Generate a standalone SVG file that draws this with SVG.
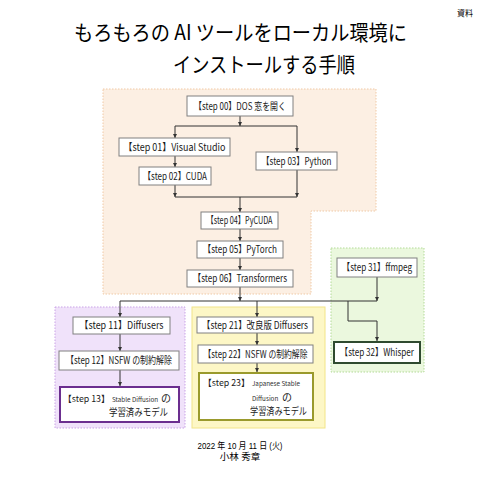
<svg xmlns="http://www.w3.org/2000/svg" width="480" height="480" viewBox="0 0 480 480">
<defs>
<marker id="ah" markerUnits="userSpaceOnUse" markerWidth="5" markerHeight="5" refX="4" refY="2" orient="auto">
<path d="M0,0 L4,2 L0,4 z" fill="#333"/>
</marker>
<style>
.lbl{font-family:"Noto Sans CJK JP","Liberation Sans",sans-serif;font-size:10px;fill:#1a1a1a;text-anchor:middle}
.lbl2{font-family:"Noto Sans CJK JP","Liberation Sans",sans-serif;font-size:10px;fill:#1a1a1a}
.br{font-family:"Noto Sans CJK JP","Liberation Sans",sans-serif;font-size:8.8px;fill:#1a1a1a}
.sm{font-family:"Noto Sans CJK JP","Liberation Sans",sans-serif;font-size:6.3px;fill:#333}
.box{fill:#fff;stroke:#808080;stroke-width:1}
.conn path{fill:none;stroke:#333;stroke-width:1}
.title{font-family:"Noto Sans CJK JP",sans-serif;font-size:21px;fill:#000}
.foot{font-family:"Liberation Sans","Noto Sans CJK JP",sans-serif;font-size:9.5px;fill:#000;text-anchor:middle}
</style>
</defs>
<rect width="480" height="480" fill="#fff"/>

<g id="header">
<text x="457" y="16" style="font-family:'Noto Sans CJK JP',sans-serif;font-size:8px">資料</text>
<text class="title" x="74" y="40" textLength="333" lengthAdjust="spacingAndGlyphs">もろもろの AI ツールをローカル環境に</text>
<text class="title" x="173" y="72" textLength="182" lengthAdjust="spacingAndGlyphs">インストールする手順</text>
</g>

<g id="regions">
<path id="region-base" d="M103,89 H376 V211 H311 V294 H103 Z" fill="#fcefe3" stroke="#f0c9a6" stroke-width="1" stroke-dasharray="1.5,1.5"/>
<rect id="region-sd" x="55" y="307" width="130" height="121" fill="#f0e2fa" stroke="#c9a3e6" stroke-width="1" stroke-dasharray="1.5,1.5"/>
<rect id="region-jsd" x="192" y="307" width="133" height="121" fill="#fdf7c6" stroke="#f2e488" stroke-width="1"/>
<rect id="region-whisper" x="331" y="248" width="93" height="124" fill="#ebf8de" stroke="#b3da98" stroke-width="1" stroke-dasharray="1.5,1.5"/>
</g>

<g id="connectors" class="conn">
<path d="M240,116 V126" marker-end="url(#ah)"/>
<path d="M175,126 H297"/>
<path d="M175,126 V138" marker-end="url(#ah)"/>
<path d="M297,126 V152" marker-end="url(#ah)"/>
<path d="M175,156 V167" marker-end="url(#ah)"/>
<path d="M175,185 V197" marker-end="url(#ah)"/>
<path d="M297,170 V197" marker-end="url(#ah)"/>
<path d="M175,197 H297"/>
<path d="M240,197 V212" marker-end="url(#ah)"/>
<path d="M240,229 V241" marker-end="url(#ah)"/>
<path d="M240,258 V270" marker-end="url(#ah)"/>
<path d="M240,287 V301" marker-end="url(#ah)"/>
<path d="M120,301 H377"/>
<path d="M120,301 V317" marker-end="url(#ah)"/>
<path d="M257,301 V317" marker-end="url(#ah)"/>
<path d="M377,277 V301" marker-end="url(#ah)"/>
<path d="M348,301 V321 H377 V341" marker-end="url(#ah)"/>
<path d="M120,334 V351" marker-end="url(#ah)"/>
<path d="M120,370 V386" marker-end="url(#ah)"/>
<path d="M257,333 V345" marker-end="url(#ah)"/>
<path d="M257,363 V372" marker-end="url(#ah)"/>
</g>

<g id="step00"><rect class="box" x="187" y="96" width="106" height="20"/><text class="lbl" x="240" y="109.5" textLength="92" lengthAdjust="spacingAndGlyphs">【step 00】DOS 窓を開く</text></g>
<g id="step01"><rect class="box" x="119" y="138" width="111" height="18"/><text class="lbl" x="174.5" y="150.5" textLength="102" lengthAdjust="spacingAndGlyphs">【step 01】Visual Studio</text></g>
<g id="step02"><rect class="box" x="139" y="167" width="72" height="18"/><text class="lbl" x="175" y="179.5" textLength="64" lengthAdjust="spacingAndGlyphs">【step 02】CUDA</text></g>
<g id="step03"><rect class="box" x="256" y="152" width="81" height="18"/><text class="lbl" x="296.5" y="164.5" textLength="70" lengthAdjust="spacingAndGlyphs">【step 03】Python</text></g>
<g id="step04"><rect class="box" x="201" y="212" width="77" height="17"/><text class="lbl" x="239.5" y="224" textLength="66" lengthAdjust="spacingAndGlyphs">【step 04】PyCUDA</text></g>
<g id="step05"><rect class="box" x="197" y="241" width="86" height="17"/><text class="lbl" x="240" y="253" textLength="74" lengthAdjust="spacingAndGlyphs">【step 05】PyTorch</text></g>
<g id="step06"><rect class="box" x="187" y="270" width="106" height="17"/><text class="lbl" x="240" y="282" textLength="94" lengthAdjust="spacingAndGlyphs">【step 06】Transformers</text></g>

<g id="step31"><rect class="box" x="337" y="258" width="80" height="19"/><text class="lbl" x="377" y="271" textLength="70" lengthAdjust="spacingAndGlyphs">【step 31】ffmpeg</text></g>
<g id="step32"><rect x="334" y="342" width="86" height="21" fill="#fff" stroke="#2f4a2f" stroke-width="2"/><text class="lbl" x="377" y="356" textLength="74" lengthAdjust="spacingAndGlyphs">【step 32】Whisper</text></g>

<g id="step11"><rect class="box" x="73" y="317" width="97" height="17"/><text class="lbl" x="121.5" y="329" textLength="84" lengthAdjust="spacingAndGlyphs">【step 11】Diffusers</text></g>
<g id="step12"><rect class="box" x="59" y="351" width="120" height="19"/><text class="lbl" x="119" y="364" textLength="106" lengthAdjust="spacingAndGlyphs">【step 12】NSFW の制約解除</text></g>
<g id="step13"><rect x="60" y="387" width="119" height="35" fill="#fff" stroke="#6b2e8f" stroke-width="2"/>
<text class="br" x="63" y="402">【step 13】</text>
<text class="sm" x="112" y="401.5">Stable Diffusion</text>
<text class="lbl2" x="161" y="402">の</text>
<text class="lbl2" x="109" y="416" textLength="59" lengthAdjust="spacingAndGlyphs">学習済みモデル</text>
</g>

<g id="step21"><rect class="box" x="197" y="317" width="116" height="16"/><text class="lbl" x="255" y="328.5" textLength="106" lengthAdjust="spacingAndGlyphs">【step 21】改良版 Diffusers</text></g>
<g id="step22"><rect class="box" x="198" y="345" width="115" height="18"/><text class="lbl" x="255.5" y="357.5" textLength="104" lengthAdjust="spacingAndGlyphs">【step 22】NSFW の制約解除</text></g>
<g id="step23"><rect x="199" y="373" width="114" height="47" fill="#fff" stroke="#9a9a2c" stroke-width="2"/>
<text class="br" x="203" y="386">【step 23】</text>
<text class="sm" x="252" y="385.5">Japanese Stable</text>
<text class="sm" x="252" y="400.5">Diffusion</text>
<text class="lbl2" x="282" y="401">の</text>
<text class="lbl2" x="250" y="415" textLength="57" lengthAdjust="spacingAndGlyphs">学習済みモデル</text>
</g>

<g id="footer">
<text class="foot" x="240" y="449" textLength="85" lengthAdjust="spacingAndGlyphs">2022 年 10 月 11 日 (火)</text>
<text class="foot" x="240" y="460">小林 秀章</text>
</g>
</svg>
